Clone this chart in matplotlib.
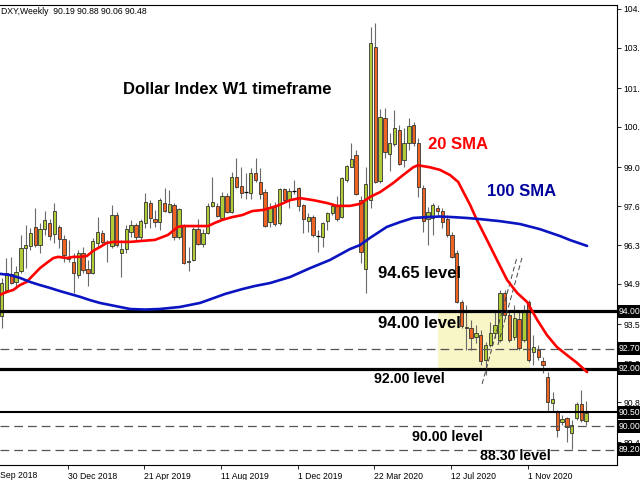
import matplotlib
matplotlib.use('Agg')
import matplotlib.pyplot as plt
import matplotlib.transforms as mtransforms
from matplotlib.patches import Rectangle

plt.rcParams['font.family'] = ['Liberation Sans', 'DejaVu Sans']

# ---------------- data (weekly OHLC) ----------------
opens = [93.84, 94.74, 95.30, 95.02, 95.40, 96.20, 96.27, 96.93, 96.30, 96.86,
         97.07, 96.68, 96.93, 96.51, 95.82, 95.71, 95.26, 96.02, 95.47, 95.33,
         96.37, 96.72, 96.41, 96.27, 97.34, 96.02, 96.16, 96.75, 97.00, 96.58,
         97.07, 97.76, 97.20, 97.10, 97.76, 97.45, 97.69, 96.58, 97.00, 95.71,
         95.78, 96.86, 96.34, 96.72, 97.66, 97.66, 97.24, 98.00, 97.45, 98.66,
         98.35, 98.14, 98.11, 98.80, 98.49, 98.14, 97.10, 97.62, 97.07, 98.25,
         97.86, 98.18, 98.28, 97.69, 97.14, 97.27, 96.61, 96.58, 97.14, 97.41,
         97.66, 97.27, 98.56, 99.01, 99.43, 97.86, 95.47, 97.86, 103.18, 98.52,
         100.71, 99.46, 99.81, 100.29, 99.25, 99.84, 100.47, 99.84, 98.28, 97.20,
         97.24, 97.59, 97.48, 97.20, 96.65, 96.02, 94.32, 93.45, 93.42, 93.11,
         93.18, 92.31, 92.83, 93.25, 93.00, 94.64, 93.87, 93.11, 93.73, 93.00,
         94.32, 92.59, 92.66, 92.27, 91.72, 90.82, 90.54, 90.16, 90.30, 89.77,
         90.30, 90.78, 90.19]
highs = [95.16, 95.85, 95.89, 95.57, 96.65, 97.00, 96.89, 97.59, 97.07, 97.48,
         97.20, 97.76, 97.00, 96.65, 96.48, 96.02, 96.13, 96.23, 95.78, 96.55,
         97.27, 96.82, 96.48, 97.69, 97.45, 96.48, 97.00, 97.17, 97.07, 97.20,
         98.11, 97.86, 97.52, 97.93, 98.28, 98.21, 97.76, 97.59, 97.03, 96.23,
         96.93, 97.20, 96.86, 97.76, 98.66, 97.76, 98.14, 98.11, 98.84, 99.32,
         99.01, 98.80, 98.98, 99.32, 98.98, 98.25, 97.76, 97.80, 98.28, 98.28,
         98.28, 98.56, 98.32, 97.73, 97.41, 97.34, 96.82, 97.10, 97.45, 97.76,
         98.00, 98.66, 99.08, 99.84, 99.60, 98.00, 99.01, 103.87, 104.01, 101.02,
         101.06, 100.19, 100.99, 100.47, 100.36, 100.71, 100.57, 100.02, 98.39, 97.62,
         97.76, 97.69, 97.59, 97.34, 96.75, 96.13, 94.39, 94.22, 93.70, 93.52,
         93.35, 92.93, 93.63, 94.05, 94.74, 94.74, 93.98, 94.22, 93.98, 94.22,
         94.39, 93.18, 92.83, 92.41, 91.89, 91.20, 90.57, 90.40, 90.32, 90.23,
         90.85, 91.27, 90.88]
lows = [93.42, 94.64, 94.95, 94.84, 95.33, 95.50, 96.13, 96.23, 96.02, 96.65,
        96.48, 96.37, 96.20, 95.71, 95.71, 94.64, 95.16, 95.33, 94.88, 95.30,
        96.23, 96.30, 95.71, 96.20, 96.23, 95.19, 96.02, 96.58, 96.48, 96.48,
        96.89, 96.89, 96.93, 96.82, 97.45, 97.41, 96.48, 96.51, 95.64, 95.40,
        95.75, 96.30, 96.23, 96.68, 97.62, 97.27, 97.20, 97.41, 97.41, 98.28,
        97.93, 97.90, 97.90, 98.49, 97.90, 96.93, 96.93, 96.96, 97.00, 97.80,
        97.59, 98.07, 97.48, 96.72, 96.75, 96.58, 96.06, 96.23, 96.82, 97.34,
        97.14, 97.24, 98.49, 99.01, 98.04, 95.68, 94.64, 97.59, 98.45, 98.45,
        99.32, 98.87, 99.74, 99.08, 99.01, 99.60, 99.74, 97.97, 96.75, 96.30,
        96.65, 97.31, 96.89, 96.58, 95.85, 94.29, 93.42, 92.66, 92.66, 92.90,
        92.14, 91.79, 92.76, 93.07, 92.93, 93.77, 92.93, 93.00, 92.66, 92.93,
        92.24, 92.14, 92.31, 91.86, 90.50, 90.50, 89.64, 90.05, 89.46, 89.22,
        90.23, 90.16, 90.06]
closes = [94.98, 95.33, 94.98, 95.36, 96.20, 96.30, 96.72, 96.30, 96.86, 97.17,
          96.61, 97.48, 96.51, 95.95, 95.89, 95.33, 96.02, 95.43, 95.33, 96.44,
          96.75, 96.41, 96.40, 97.34, 96.30, 96.16, 96.86, 97.00, 96.58, 97.14,
          97.80, 97.24, 97.10, 97.86, 97.48, 97.73, 96.58, 97.55, 95.68, 95.75,
          96.86, 96.34, 96.72, 97.66, 97.80, 97.31, 98.00, 97.45, 98.66, 98.32,
          98.11, 98.12, 98.80, 98.56, 98.07, 96.96, 97.62, 97.03, 98.25, 97.86,
          98.18, 98.17, 97.66, 97.20, 97.27, 96.65, 96.62, 97.07, 97.41, 97.66,
          97.20, 98.63, 99.04, 99.29, 98.07, 96.06, 98.42, 103.32, 98.49, 100.75,
          99.53, 99.84, 100.36, 99.11, 99.84, 100.43, 99.84, 98.32, 97.14, 97.45,
          97.69, 97.48, 97.10, 96.65, 95.89, 94.32, 93.49, 93.42, 93.07, 93.25,
          92.27, 92.83, 93.25, 93.52, 94.64, 93.87, 93.00, 93.77, 92.73, 93.98,
          92.31, 92.76, 92.41, 92.14, 90.85, 90.95, 89.88, 90.26, 89.99, 90.05,
          90.78, 90.23, 90.48]

# moving averages (candle index, value)
sma20_x = [-0.35, 1.0, 2.4, 3.8, 5.2, 6.6, 8.0, 9.4, 10.8, 11.8,
           13.6, 15.0, 16.4, 17.8, 19.1, 20.5, 21.9, 23.3, 24.7, 26.8,
           32.0, 34.7, 36.8, 37.9, 43.1, 44.5, 46.0, 48.1, 50.2, 52.3,
           54.6, 57.5, 60.2, 62.3, 65.0, 67.9, 70.0, 72.7, 74.8, 76.9,
           79.0, 81.7, 83.8, 85.9, 86.9, 89.4, 91.5, 93.6, 95.3, 96.7,
           97.8, 99.2, 101.3, 103.4, 105.5, 107.6, 109.7, 111.8, 113.8, 115.9,
           118.0, 120.1, 122.2]
sma20_v = [94.57, 94.67, 94.74, 94.91, 95.02, 95.26, 95.50, 95.68, 95.85, 95.89,
           95.85, 95.89, 95.89, 95.92, 96.10, 96.23, 96.37, 96.41, 96.41, 96.41,
           96.48, 96.65, 96.93, 96.96, 96.96, 97.07, 97.17, 97.27, 97.34, 97.48,
           97.52, 97.66, 97.86, 97.93, 97.86, 97.76, 97.66, 97.66, 97.73, 97.97,
           98.14, 98.45, 98.73, 99.00, 99.07, 99.00, 98.91, 98.73, 98.49, 98.04,
           97.69, 97.17, 96.48, 95.78, 95.09, 94.64, 94.32, 93.70, 93.18, 92.76,
           92.48, 92.21, 91.89]
sma100_x = [-0.35, 1.7, 3.8, 5.9, 8.0, 10.1, 12.2, 14.3, 16.4, 18.4,
            20.5, 22.6, 24.7, 26.8, 29.9, 33.0, 37.2, 41.4, 43.1, 46.6,
            50.2, 52.9, 56.0, 60.2, 64.4, 68.5, 72.7, 74.8, 76.9, 80.4,
            83.2, 85.9, 88.8, 91.5, 94.2, 97.1, 99.9, 104.0, 108.2, 112.4,
            116.6, 118.7, 122.2]
sma100_v = [95.30, 95.26, 95.16, 95.02, 94.91, 94.81, 94.70, 94.60, 94.50, 94.39,
            94.29, 94.22, 94.15, 94.08, 94.06, 94.08, 94.15, 94.29, 94.39, 94.60,
            94.77, 94.88, 94.98, 95.19, 95.50, 95.78, 96.16, 96.30, 96.55, 96.93,
            97.10, 97.24, 97.27, 97.29, 97.27, 97.24, 97.20, 97.13, 97.03, 96.85,
            96.61, 96.47, 96.27]

solid_levels = [94.00, 92.00, 90.50]
solid_widths = [2.3, 2.3, 1.5]
dashed_levels = [92.70, 90.00, 89.20]
box_levels = [94.00, 92.70, 92.00, 90.50, 90.00, 89.20]
price_ticks = [104.50, 103.15, 101.75, 100.40, 99.00, 97.65, 96.30, 94.95,
               93.55, 92.20, 90.85, 89.45]
date_labels = ["9 Sep 2018", "30 Dec 2018", "21 Apr 2019", "11 Aug 2019",
               "1 Dec 2019", "22 Mar 2020", "12 Jul 2020", "1 Nov 2020"]
date_pos = [-2.2, 13.8, 29.8, 45.8, 61.8, 77.8, 93.8, 109.8]

zone_x = (91.1, 110.3)
zone_y = (92.00, 94.00)
channel_lines = [((100.3, 91.48), (107.6, 95.89)),
                 ((103.6, 92.83), (108.6, 95.85))]

header = "DXY,Weekly  90.19 90.88 90.06 90.48"

# ---------------- figure ----------------
W, H = 640, 480
fig = plt.figure(figsize=(6.4, 4.8), dpi=100)
fig.patch.set_facecolor('white')
ax = fig.add_axes([0, 15 / H, 617 / W, 460 / H])
ax.set_facecolor('white')
ax.set_xlim(-0.355, 128.45)
ax.set_ylim(88.663, 104.635)

for s in ['top', 'right', 'bottom']:
    ax.spines[s].set_color('black')
    ax.spines[s].set_linewidth(0.8)
ax.spines['left'].set_visible(False)

# zone
ax.add_patch(Rectangle((zone_x[0], zone_y[0]), zone_x[1] - zone_x[0],
                       zone_y[1] - zone_y[0], facecolor='#F8F5C6',
                       edgecolor='none', zorder=0.5))

# candles
idx = list(range(len(opens)))
bull = '#AFCB35'
bear = '#EF6423'
ax.vlines(idx, lows, highs, color='#6A6A6A', linewidth=0.8, zorder=2)
for i in idx:
    o, c = opens[i], closes[i]
    if abs(c - o) < 0.03:
        ax.hlines((o + c) / 2, i - 0.4, i + 0.4, color='black', linewidth=0.9, zorder=3)
    else:
        ax.bar(i, abs(c - o), bottom=min(o, c), width=0.7,
               color=bull if c > o else bear, edgecolor='#333333',
               linewidth=0.6, zorder=3)

# horizontal levels
for lv, lw in zip(solid_levels, solid_widths):
    ax.axhline(lv, color='black', linewidth=lw, zorder=4)
for lv in dashed_levels:
    ax.axhline(lv, color='#555555', linewidth=0.9, linestyle=(0, (7, 4)), zorder=4)

# channel lines
for (x0, y0), (x1, y1) in channel_lines:
    ax.plot([x0, x1], [y0, y1], color='#444444', linewidth=0.7,
            linestyle=(0, (5, 3)), zorder=4)

# moving averages
ax.plot(sma20_x, sma20_v, color='#FF0000', linewidth=1.9, zorder=5,
        solid_capstyle='round', solid_joinstyle='round')
ax.plot(sma100_x, sma100_v, color='#0A14C0', linewidth=1.9, zorder=5,
        solid_capstyle='round', solid_joinstyle='round')

# axes ticks
FS = 6.2
ax.yaxis.tick_right()
ax.set_yticks(price_ticks, ["%.2f" % v for v in price_ticks])
ax.tick_params(axis='y', direction='out', length=3, width=0.6, pad=1.5,
               labelsize=FS, colors='black')
ax.set_xticks(date_pos[1:], date_labels[1:])
ax.tick_params(axis='x', direction='out', length=3, width=0.6, pad=2,
               labelsize=FS)
for lab in ax.get_xticklabels():
    lab.set_horizontalalignment('left')
trans_xa = mtransforms.blended_transform_factory(ax.transData, ax.transAxes)
ax.text(date_pos[0] + 0.4, -0.0135, date_labels[0], transform=trans_xa,
        ha='left', va='top', fontsize=FS, clip_on=False)

# boxed price labels
trans_ay = mtransforms.blended_transform_factory(ax.transAxes, ax.transData)
for lv in box_levels:
    ax.text(1.003, lv, "%.2f" % lv, transform=trans_ay, ha='left', va='center',
            color='white', fontsize=FS, clip_on=False, zorder=10,
            bbox=dict(facecolor='black', edgecolor='none', pad=1.4))

# annotations
def ftext(x, y, s, **kw):
    fig.text(x / W, 1 - y / H, s, ha='left', va='center', **kw)

ftext(1, 11, header, fontsize=6.2, color='black')
ftext(123, 90, "Dollar Index W1 timeframe", fontsize=12, fontweight='bold')
ftext(428, 145, "20 SMA", fontsize=12, fontweight='bold', color='#FF0000')
ftext(487, 191, "100 SMA", fontsize=12, fontweight='bold', color='#00009C')
ftext(378, 274, "94.65 level", fontsize=12, fontweight='bold')
ftext(378, 323, "94.00 level", fontsize=12, fontweight='bold')
ftext(374, 379, "92.00 level", fontsize=10.2, fontweight='bold')
ftext(412, 437, "90.00 level", fontsize=10.2, fontweight='bold')
ftext(480, 456, "88.30 level", fontsize=10.2, fontweight='bold')

fig.savefig('out.png', dpi=100)
